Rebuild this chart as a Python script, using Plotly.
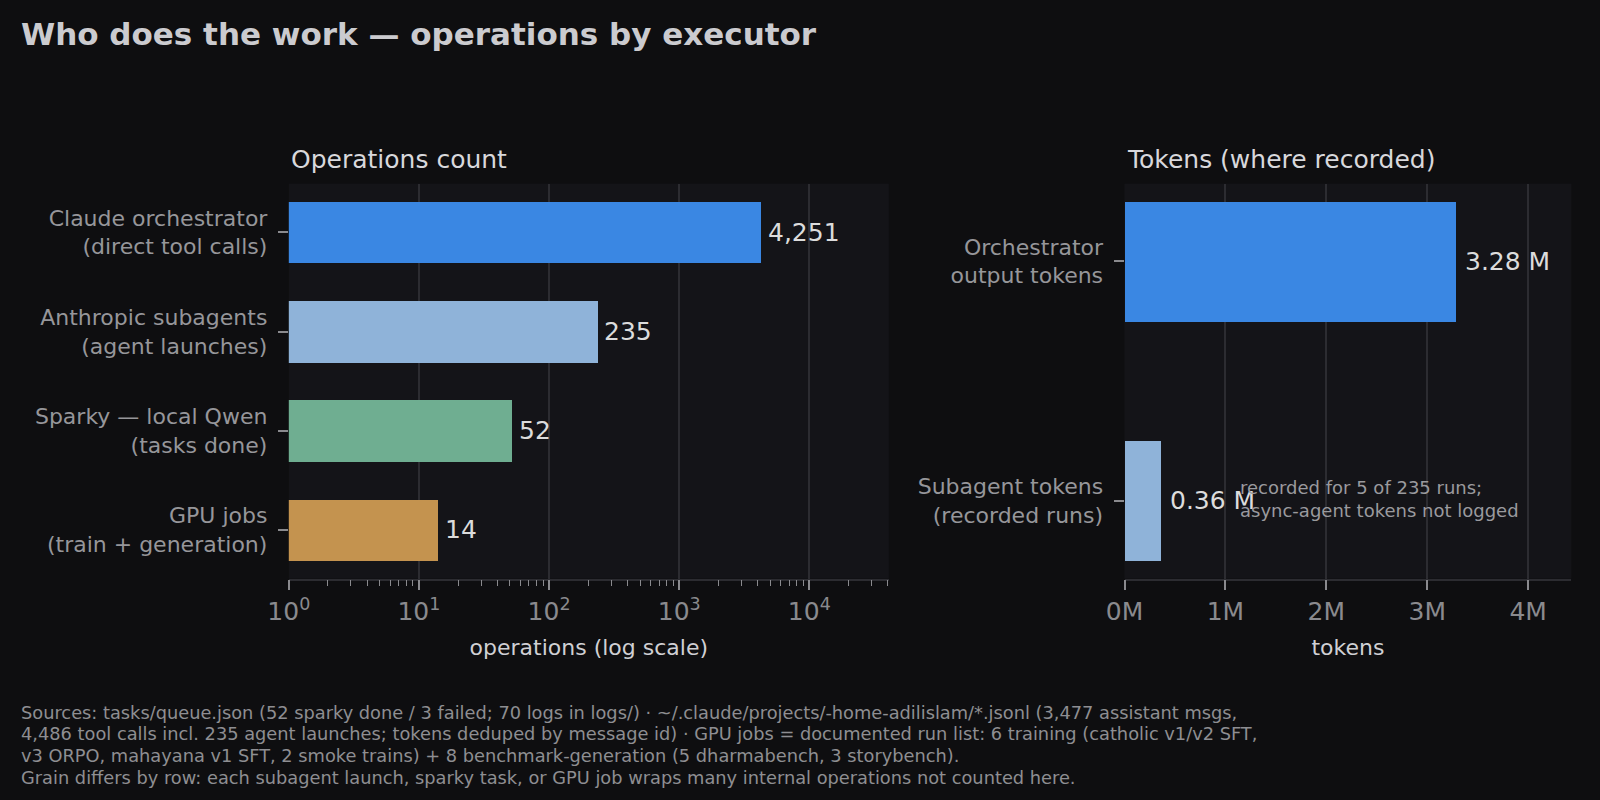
import numpy as np
import plotly.graph_objects as go

# ---- data ----
ops_labels = ["Claude orchestrator<br>(direct tool calls)",
              "Anthropic subagents<br>(agent launches)",
              "Sparky — local Qwen<br>(tasks done)",
              "GPU jobs<br>(train + generation)"]
ops_values = [4251, 235, 52, 14]
ops_text = ["4,251", "235", "52", "14"]
ops_colors = ["#3a87e3", "#8fb3d9", "#6fae91", "#c4934f"]

tok_labels = ["Orchestrator<br>output tokens", "Subagent tokens<br>(recorded runs)"]
tok_values = [3.28e6, 0.36e6]
tok_text = ["3.28 M", "0.36 M"]
tok_colors = ["#3a87e3", "#8fb3d9"]

log_tickvals = [1, 10, 100, 1000, 10000]
log_ticktext = ["10<sup>0</sup>", "10<sup>1</sup>", "10<sup>2</sup>", "10<sup>3</sup>", "10<sup>4</sup>"]
tok_tickvals = [0, 1e6, 2e6, 3e6, 4e6]
tok_ticktext = ["0M", "1M", "2M", "3M", "4M"]

footer_lines = [
    "Sources: tasks/queue.json (52 sparky done / 3 failed; 70 logs in logs/) · ~/.claude/projects/-home-adilislam/*.jsonl (3,477 assistant msgs,",
    "4,486 tool calls incl. 235 agent launches; tokens deduped by message id) · GPU jobs = documented run list: 6 training (catholic v1/v2 SFT,",
    "v3 ORPO, mahayana v1 SFT, 2 smoke trains) + 8 benchmark-generation (5 dharmabench, 3 storybench).",
    "Grain differs by row: each subagent launch, sparky task, or GPU job wraps many internal operations not counted here.",
]
note_text = "recorded for 5 of 235 runs;<br>async-agent tokens not logged"

# ---- style ----
W, H = 1600, 800
BG = "#0e0e10"
PLOT_BG = "#141418"
GRID = "#2c2c31"
FONT = "DejaVu Sans"

def px(x):
    return x / W

def py(y):
    return 1 - y / H

fig = go.Figure()

fig.add_trace(go.Bar(
    x=ops_values, y=ops_labels, orientation="h", width=0.62,
    marker=dict(color=ops_colors, line=dict(width=0)),
    xaxis="x", yaxis="y", showlegend=False, hoverinfo="x+y"))

fig.add_trace(go.Bar(
    x=tok_values, y=tok_labels, orientation="h", width=0.5,
    marker=dict(color=tok_colors, line=dict(width=0)),
    xaxis="x2", yaxis="y2", showlegend=False, hoverinfo="x+y"))

ydom = [py(578.6), py(183.7)]

minor_vals = []
for k in range(0, 5):
    for m in range(2, 10):
        v = m * 10 ** k
        if v < max(ops_values) * 10:
            minor_vals.append(v)

tickfont = dict(family=FONT, size=25, color="#8a8a8e")
catfont = dict(family=FONT, size=22, color="#96969a")

fig.update_layout(
    width=W, height=H, margin=dict(l=0, r=0, t=0, b=0, autoexpand=False),
    paper_bgcolor=BG, plot_bgcolor=PLOT_BG,
    font=dict(family=FONT, color="#cccccc"),
    bargap=0, showlegend=False,
    xaxis=dict(
        domain=[px(288.8), px(888.8)], anchor="y", type="log", automargin=False,
        range=[0, np.log10(max(ops_values) * 9.6)],
        tickmode="array", tickvals=log_tickvals, ticktext=log_ticktext,
        ticks="outside", ticklen=10, tickwidth=1.5, tickcolor="#8a8a8e",
        tickfont=tickfont,
        showgrid=True, gridcolor=GRID, gridwidth=1.5,
        showline=True, linecolor=GRID, linewidth=1.5,
        zeroline=False,
        minor=dict(tickmode="array", tickvals=minor_vals, ticks="outside",
                   ticklen=6, tickwidth=1.2, tickcolor="#8a8a8e", showgrid=False),
        title=dict(text="operations (log scale)", font=dict(family=FONT, size=22, color="#d0d0d4"),
                   standoff=14),
    ),
    yaxis=dict(
        domain=ydom, anchor="x", type="category", automargin=False,
        categoryorder="array", categoryarray=ops_labels,
        range=[3.49, -0.49],
        ticks="outside", ticklen=10, tickwidth=1.5, tickcolor="#8a8a8e",
        tickfont=catfont, showgrid=False, zeroline=False, showline=False,
        ticklabelstandoff=6,
    ),
    xaxis2=dict(
        domain=[px(1124.5), px(1571.4)], anchor="y2", automargin=False,
        range=[0, max(tok_values) * 1.35],
        tickmode="array", tickvals=tok_tickvals, ticktext=tok_ticktext,
        ticks="outside", ticklen=10, tickwidth=1.5, tickcolor="#8a8a8e",
        tickfont=tickfont,
        showgrid=True, gridcolor=GRID, gridwidth=1.5,
        showline=True, linecolor=GRID, linewidth=1.5, zeroline=False,
        title=dict(text="tokens", font=dict(family=FONT, size=22, color="#d0d0d4"), standoff=14),
    ),
    yaxis2=dict(
        domain=ydom, anchor="x2", type="category", automargin=False,
        categoryorder="array", categoryarray=tok_labels,
        range=[1.325, -0.325],
        ticks="outside", ticklen=10, tickwidth=1.5, tickcolor="#8a8a8e",
        tickfont=catfont, showgrid=False, zeroline=False, showline=False,
        ticklabelstandoff=6,
    ),
)

ann = []
# main title
ann.append(dict(text="<b>Who does the work — operations by executor</b>", xref="paper", yref="paper",
                x=px(19), y=py(34), xanchor="left", yanchor="middle", showarrow=False,
                font=dict(family=FONT, size=31, color="#cbcbcf")))
# subplot titles
ann.append(dict(text="Operations count", xref="paper", yref="paper", x=px(288.8), y=py(160),
                xanchor="left", yanchor="middle", showarrow=False,
                font=dict(family=FONT, size=25, color="#d8d8dc")))
ann.append(dict(text="Tokens (where recorded)", xref="paper", yref="paper", x=px(1124.5), y=py(160),
                xanchor="left", yanchor="middle", showarrow=False,
                font=dict(family=FONT, size=25, color="#d8d8dc")))
# value labels
for lab, v, t in zip(ops_labels, ops_values, ops_text):
    ann.append(dict(text=t, xref="x", yref="y", x=np.log10(v), y=lab, xanchor="left", yanchor="middle",
                    xshift=5, showarrow=False, font=dict(family=FONT, size=25, color="#dcdcdc")))
for lab, v, t in zip(tok_labels, tok_values, tok_text):
    ann.append(dict(text=t, xref="x2", yref="y2", x=v, y=lab, xanchor="left", yanchor="middle",
                    xshift=7, showarrow=False, font=dict(family=FONT, size=25, color="#dcdcdc")))
# note
ann.append(dict(text=note_text, xref="x2", yref="y2", x=1.12e6, y=tok_labels[1], xanchor="left",
                yanchor="middle", align="left", showarrow=False, yshift=2,
                font=dict(family=FONT, size=18, color="#9a9a9e")))
# footer
for i, line in enumerate(footer_lines):
    ann.append(dict(text=line, xref="paper", yref="paper", x=px(19), y=py(712 + i * 21.8),
                    xanchor="left", yanchor="middle", showarrow=False,
                    font=dict(family=FONT, size=17.8, color="#8e8e92")))

fig.update_layout(annotations=ann)
fig.write_html("out.html")
